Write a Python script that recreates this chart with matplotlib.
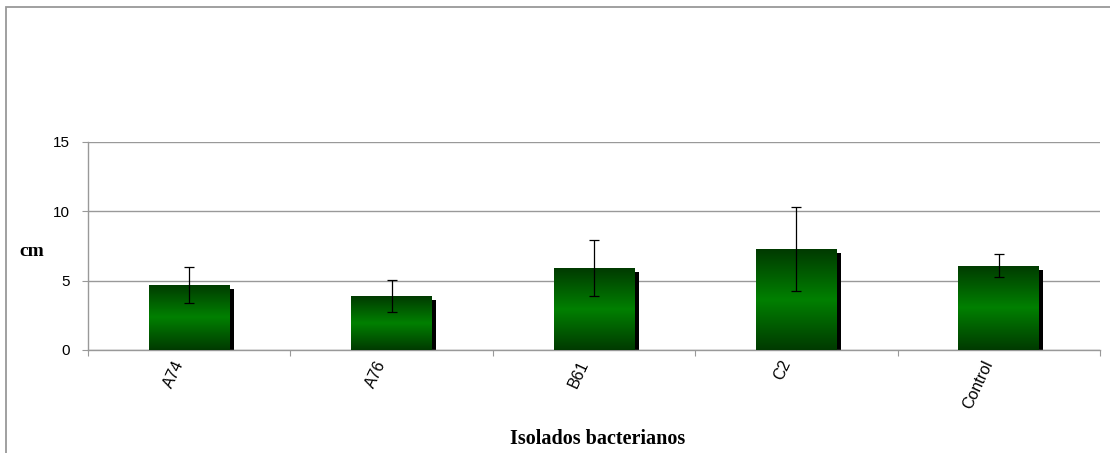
import numpy as np
import matplotlib.pyplot as plt
import matplotlib.patheffects as pe
import matplotlib.transforms as mtransforms
from matplotlib.colors import LinearSegmentedColormap
from matplotlib.patches import Rectangle

# datos
isolados = ['A74', 'A76', 'B61', 'C2', 'Control']
media = [4.69, 3.89, 5.91, 7.28, 6.06]
erro = [1.33, 1.15, 2.02, 3.05, 0.83]

fig = plt.figure(figsize=(11.1, 4.53), dpi=100)
ax = fig.add_axes([0.0793, 0.2274, 0.9117, 0.4592])

x = np.arange(len(isolados))
barras = ax.bar(x, media, width=0.4, color='#008000', zorder=2,
                path_effects=[pe.SimplePatchShadow(offset=(3, -3), shadow_rgbFace='black', alpha=1.0),
                              pe.Normal()])

# degradado verde oscuro - verde - verde oscuro
cmap = LinearSegmentedColormap.from_list('verde', ['#003a00', '#008000', '#003a00'])
grad = np.linspace(0, 1, 256).reshape(-1, 1)
for b in barras:
    x0, y0 = b.get_x(), b.get_y()
    w, h = b.get_width(), b.get_height()
    im = ax.imshow(grad, cmap=cmap, extent=[x0, x0 + w, y0, y0 + h],
                   aspect='auto', origin='lower', zorder=3)
    im.set_clip_path(b)

ax.errorbar(x, media, yerr=erro, fmt='none', ecolor='black', elinewidth=0.9,
            capsize=3.6, capthick=0.9, zorder=4)

ax.set_xlim(-0.5, len(isolados) - 0.5)
ax.set_ylim(0, 15)
ax.set_yticks([0, 5, 10, 15])
ax.yaxis.grid(True, color='#999999', linewidth=1)
ax.set_axisbelow(True)

# ticks del eje x en los limites de categoria
ax.set_xticks(np.arange(-0.5, len(isolados)))
ax.set_xticklabels([])
ax.tick_params(axis='x', length=4, color='#999999', direction='out')

# etiquetas rotadas, un poco a la izquierda del centro de cada barra
trans = mtransforms.blended_transform_factory(ax.transData, ax.transAxes)
trans = trans + mtransforms.ScaledTranslation(-7 / 72, -8 / 72, fig.dpi_scale_trans)
for xi, nome in zip(x, isolados):
    ax.text(xi, 0, nome, transform=trans, rotation=65, ha='right', va='center',
            rotation_mode='anchor', fontsize=11.5, family='Liberation Sans')

ax.tick_params(axis='y', length=4.3, color='#999999', labelsize=11, pad=8.5)
for t in ax.get_yticklabels():
    t.set_family('Liberation Sans')

for s in ['top', 'right']:
    ax.spines[s].set_visible(False)
for s in ['left', 'bottom']:
    ax.spines[s].set_color('#999999')
    ax.spines[s].set_linewidth(1)

fig.text(32 / 1110, (453 - 251) / 453, 'cm', family='Liberation Serif', fontweight='bold',
         fontsize=14, ha='center', va='center')
fig.text(598 / 1110, (453 - 444) / 453, 'Isolados bacterianos', family='Liberation Serif',
         fontweight='bold', fontsize=14.5, ha='center', va='baseline')

# marco exterior
fig.patches.append(Rectangle((6 / 1110, -0.1), 1.2, 1.1 - 7 / 453,
                             transform=fig.transFigure, fill=False,
                             edgecolor='#999999', linewidth=1.3))

fig.savefig('out.png', dpi=100)
